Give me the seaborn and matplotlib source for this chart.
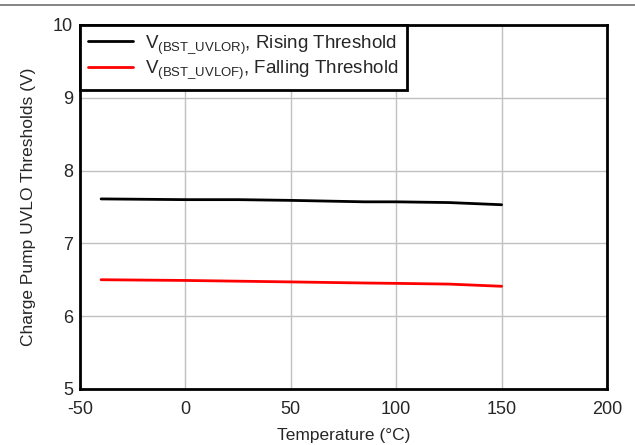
import pandas as pd
import seaborn as sns
import matplotlib.pyplot as plt
from matplotlib.lines import Line2D

# Valores
temperatura = [-40, 0, 25, 50, 85, 100, 125, 150]
v_rising = [7.61, 7.60, 7.60, 7.59, 7.57, 7.57, 7.56, 7.53]
v_falling = [6.50, 6.49, 6.48, 6.47, 6.455, 6.45, 6.44, 6.41]

rotulo_rising = r'V$_{\mathregular{(BST\_UVLOR)}}$, Rising Threshold'
rotulo_falling = r'V$_{\mathregular{(BST\_UVLOF)}}$, Falling Threshold'

df = pd.DataFrame({
    'Temperatura': temperatura * 2,
    'Tensao': v_rising + v_falling,
    'Serie': [rotulo_rising] * len(temperatura) + [rotulo_falling] * len(temperatura),
})

sns.set_style("white")
plt.rcParams['font.family'] = ['Liberation Sans', 'DejaVu Sans']
plt.rcParams['mathtext.fontset'] = 'custom'
plt.rcParams['mathtext.rm'] = 'Liberation Sans'
plt.rcParams['mathtext.it'] = 'Liberation Sans'
plt.rcParams['axes.unicode_minus'] = False

fig = plt.figure(figsize = (6.35, 4.45), dpi = 100)
ax = fig.add_axes([0.126, 0.126, 0.83, 0.818])

sns.lineplot(data = df, x = 'Temperatura', y = 'Tensao', hue = 'Serie',
             palette = ['black', 'red'], linewidth = 2, ax = ax)

ax.set_xlim(-50, 200)
ax.set_ylim(5, 10)
ax.set_xticks([-50, 0, 50, 100, 150, 200])
ax.set_yticks([5, 6, 7, 8, 9, 10])
ax.grid(True, color = '#c0c0c0', linewidth = 1)
ax.tick_params(labelsize = 13, length = 0)
ax.tick_params(axis = 'x', pad = 9)
ax.tick_params(axis = 'y', pad = 5)
ax.set_xlabel('Temperature (°C)', fontsize = 12.5, labelpad = 7)
ax.set_ylabel('Charge Pump UVLO Thresholds (V)', fontsize = 12.5, labelpad = 12)
for s in ax.spines.values():
    s.set_color('black')
    s.set_linewidth(2)

leg = ax.legend(loc = 'upper left', fontsize = 13.5, frameon = True, fancybox = False,
                borderaxespad = 0, handlelength = 2.4, borderpad = 0.45,
                labelspacing = 0.15, handletextpad = 0.6)
leg.get_frame().set_edgecolor('black')
leg.get_frame().set_linewidth(2)
leg.get_frame().set_alpha(1)

fig.add_artist(Line2D([0, 1], [0.989, 0.989], color = '#707070', linewidth = 1.2))

plt.savefig('out.png', dpi = 100)
